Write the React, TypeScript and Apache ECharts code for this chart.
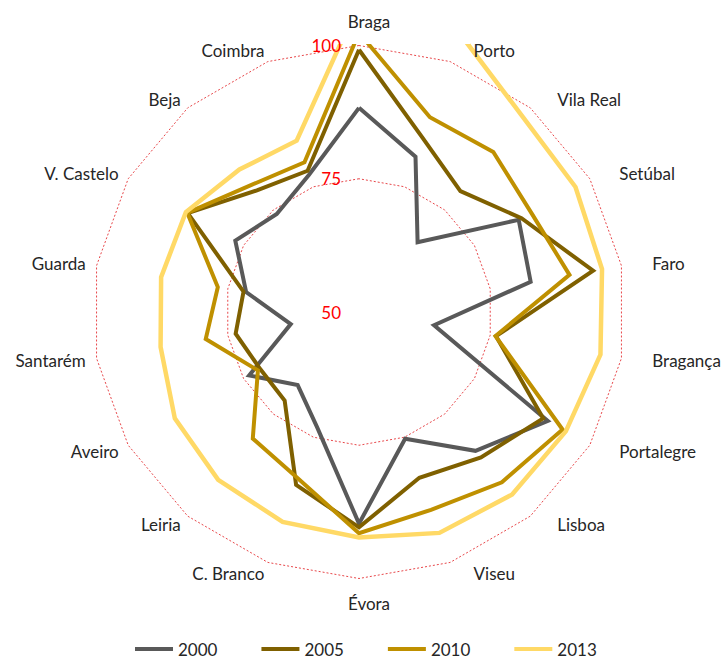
import React, { useEffect, useRef } from 'react';
import * as echarts from 'echarts';

// Categories in clockwise order, starting at the top
const categories = [
  'Braga', 'Porto', 'Vila Real', 'Setúbal', 'Faro', 'Bragança', 'Portalegre', 'Lisboa', 'Viseu',
  'Évora', 'C. Branco', 'Leiria', 'Aveiro', 'Santarém', 'Guarda', 'V. Castelo', 'Beja', 'Coimbra',
];
const years = ['2000', '2005', '2010', '2013'];
const values2000 = [88.3, 81.0, 67.1, 84.6, 82.7, 64.3, 90.9, 84.0, 75.3, 89.7, 73.0, 67.9, 73.8, 63.0, 71.5, 76.8, 74.0, 77.4];
const values2005 = [99.2, 84.8, 79.6, 85.2, 94.6, 76.1, 89.9, 85.6, 83.1, 90.4, 84.5, 71.7, 71.4, 73.5, 72.0, 87.1, 79.8, 78.2];
const values2010 = [102.4, 88.9, 89.2, 87.3, 90.1, 76.0, 94.1, 91.7, 89.5, 91.5, 83.3, 81.0, 71.9, 79.2, 76.9, 87.2, 81.2, 79.9];
const values2013 = [108.0, 105.5, 97.8, 96.9, 96.3, 96.0, 94.8, 94.7, 94.1, 92.3, 91.9, 91.1, 89.9, 87.8, 87.7, 87.5, 84.9, 84.2];
const tickValues = [50, 75, 100];
const colors = ['#595959', '#7F6000', '#BF9000', '#FFD966'];

// ECharts lays radar indicators counter-clockwise: reverse all but the first
const toCcw = <T,>(arr: T[]): T[] => [arr[0], ...arr.slice(1).reverse()];

export default function App() {
  const ref = useRef<HTMLDivElement>(null);

  useEffect(() => {
    document.body.style.margin = '0';
    const chart = echarts.init(ref.current!, null, { renderer: 'svg' });
    const cx = 359;
    const cy = 312;
    const R = 266.5;
    const vMin = 50;
    const vMax = 100;
    const fontFamily = 'Lato, "Open Sans", sans-serif';
    const N = categories.length;
    const seriesValues = [values2000, values2005, values2010, values2013];

    const nameTexts = categories.map((name, i) => {
      const a = (i * 2 * Math.PI) / N;
      const s = Math.sin(a);
      const c = Math.cos(a);
      const side = Math.abs(s) < 0.01 ? 0 : Math.sign(s);
      const x = cx + 10 + (side === 0 ? 0 : s * 278 + side * 9.5);
      const y = cy - c * (side === 0 ? 291 : 278);
      return {
        type: 'text',
        x,
        y,
        z: 20,
        style: {
          text: name,
          align: side === 0 ? 'center' : side > 0 ? 'left' : 'right',
          verticalAlign: 'middle',
          font: `17px ${fontFamily}`,
          fill: '#262626',
        },
      };
    });

    const tickTexts = tickValues.map((v) => ({
      type: 'text',
      x: cx - 18,
      y: cy - ((v - vMin) / (vMax - vMin)) * R,
      z: 20,
      style: {
        text: String(v),
        align: 'right',
        verticalAlign: 'middle',
        font: `17px ${fontFamily}`,
        fill: '#FF0000',
      },
    }));

    chart.setOption({
      animation: false,
      color: colors,
      radar: {
        center: [cx, cy],
        radius: R,
        startAngle: 90,
        shape: 'polygon',
        splitNumber: 2,
        indicator: toCcw(categories).map((name) => ({ name, min: vMin, max: vMax })),
        axisName: { show: false },
        axisLine: { show: false },
        axisTick: { show: false },
        axisLabel: { show: false },
        splitLine: { lineStyle: { color: '#E8474A', width: 1, type: [2, 2] } },
        splitArea: { show: false },
      },
      legend: {
        data: years,
        left: 135,
        top: 640,
        padding: 0,
        icon: 'rect',
        itemWidth: 38,
        itemHeight: 4,
        itemGap: 44,
        textStyle: { fontSize: 17, lineHeight: 18, color: '#262626', fontFamily },
      },
      graphic: [
        // plot-area clipping at the top, as in the original
        { type: 'rect', z: 10, shape: { x: 290, y: 0, width: 180, height: 44 }, style: { fill: '#ffffff' } },
        ...nameTexts,
        ...tickTexts,
      ],
      series: years.map((y, k) => ({
        type: 'radar',
        name: y,
        radarIndex: 0,
        symbol: 'none',
        lineStyle: { width: k === 3 ? 4.5 : 4, color: colors[k], join: 'miter', miterLimit: 10 },
        data: [{ name: y, value: toCcw(seriesValues[k]) }],
      })),
    });

    return () => chart.dispose();
  }, []);

  return <div ref={ref} style={{ width: 726, height: 661 }} />;
}
